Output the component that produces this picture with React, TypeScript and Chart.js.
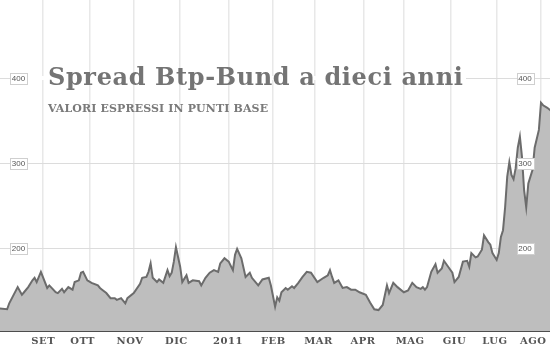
import React, { useEffect, useRef } from "react";
import { Chart, registerables } from "chart.js";

Chart.register(...registerables);

// ---- data ----
const SAMPLE_DATES: string[] = [
  "2010-08-03", "2010-08-09", "2010-08-10", "2010-08-16", "2010-08-18", "2010-08-19", "2010-08-23", "2010-08-25",
  "2010-08-26", "2010-08-27", "2010-08-31", "2010-09-03", "2010-09-06", "2010-09-09", "2010-09-10", "2010-09-14",
  "2010-09-15", "2010-09-17", "2010-09-21", "2010-09-22", "2010-09-24", "2010-09-27", "2010-09-28", "2010-09-30",
  "2010-10-04", "2010-10-07", "2010-10-08", "2010-10-11", "2010-10-13", "2010-10-15", "2010-10-19", "2010-10-20",
  "2010-10-22", "2010-10-26", "2010-10-27", "2010-11-01", "2010-11-04", "2010-11-05", "2010-11-09", "2010-11-10",
  "2010-11-11", "2010-11-12", "2010-11-16", "2010-11-17", "2010-11-19", "2010-11-23", "2010-11-24", "2010-11-25",
  "2010-11-26", "2010-11-29", "2010-12-01", "2010-12-02", "2010-12-06", "2010-12-07", "2010-12-09", "2010-12-14",
  "2010-12-15", "2010-12-17", "2010-12-21", "2010-12-23", "2010-12-27", "2010-12-28", "2010-12-30", "2011-01-03",
  "2011-01-05", "2011-01-06", "2011-01-07", "2011-01-11", "2011-01-13", "2011-01-17", "2011-01-18", "2011-01-21",
  "2011-01-25", "2011-01-28", "2011-01-31", "2011-02-02", "2011-02-03", "2011-02-04", "2011-02-07", "2011-02-09",
  "2011-02-10", "2011-02-14", "2011-02-15", "2011-02-17", "2011-02-21", "2011-02-23", "2011-02-25", "2011-03-02",
  "2011-03-07", "2011-03-09", "2011-03-10", "2011-03-11", "2011-03-14", "2011-03-16", "2011-03-18", "2011-03-22",
  "2011-03-24", "2011-03-28", "2011-03-30", "2011-04-04", "2011-04-06", "2011-04-08", "2011-04-12", "2011-04-14",
  "2011-04-18", "2011-04-19", "2011-04-21", "2011-04-27", "2011-05-02", "2011-05-04", "2011-05-06", "2011-05-10",
  "2011-05-12", "2011-05-13", "2011-05-16", "2011-05-17", "2011-05-19", "2011-05-23", "2011-05-24", "2011-05-26",
  "2011-05-27", "2011-05-31", "2011-06-02", "2011-06-03", "2011-06-07", "2011-06-09", "2011-06-13", "2011-06-14",
  "2011-06-15", "2011-06-17", "2011-06-20", "2011-06-22", "2011-06-23", "2011-06-27", "2011-06-28", "2011-06-29",
  "2011-07-01", "2011-07-04", "2011-07-05", "2011-07-06", "2011-07-07", "2011-07-08", "2011-07-11", "2011-07-12",
  "2011-07-13", "2011-07-14", "2011-07-15", "2011-07-18", "2011-07-19", "2011-07-20", "2011-07-21", "2011-07-22",
  "2011-07-26", "2011-07-27", "2011-07-29", "2011-08-01", "2011-08-02", "2011-08-04", "2011-08-08",
];

const SPREAD_BP: number[] = [
  129, 128, 135, 154, 145, 148, 154, 162,
  165, 160, 172, 153, 156, 148, 147, 152,
  148, 154, 151, 160, 162, 171, 172, 162,
  159, 156, 153, 151, 147, 141, 141, 139,
  141, 135, 141, 147, 158, 165, 166, 172,
  182, 165, 160, 163, 159, 174, 167, 171,
  184, 201, 178, 160, 168, 159, 162, 161,
  156, 165, 171, 174, 172, 182, 188, 184,
  174, 192, 199, 188, 166, 171, 165, 156,
  163, 165, 156, 131, 142, 138, 148, 153,
  151, 155, 153, 159, 166, 172, 171, 160,
  165, 168, 174, 166, 159, 162, 153, 154,
  151, 151, 148, 145, 136, 128, 127, 133,
  156, 147, 159, 154, 148, 150, 159, 154,
  152, 154, 151, 154, 172, 181, 171, 176,
  185, 178, 171, 160, 166, 184, 185, 178,
  194, 189, 190, 198, 215, 207, 204, 194,
  186, 194, 213, 221, 248, 284, 301, 286,
  281, 294, 318, 331, 307, 268, 248, 276,
  292, 318, 339, 371, 368, 365, 361,
];

const MONTH_STARTS: string[] = [
  "2010-09-01", "2010-10-01", "2010-11-01", "2010-12-01", "2011-01-01", "2011-02-01",
  "2011-03-01", "2011-04-01", "2011-05-01", "2011-06-01", "2011-07-01", "2011-08-01",
];
const MONTH_LABELS: string[] = ["SET", "OTT", "NOV", "DIC", "2011", "FEB", "MAR", "APR", "MAG", "GIU", "LUG", "AGO"];
const Y_TICKS: number[] = [200, 300, 400];
const MARKET_HOLIDAYS: string[] = ["2011-04-22", "2011-04-25"];

const TITLE = "Spread Btp-Bund a dieci anni";
const SUBTITLE = "VALORI ESPRESSI IN PUNTI BASE";

// ---- style / layout ----
const SESSION_ORIGIN = Date.UTC(2010, 7, 2);
const X_MIN = 1.62;
const X_MAX = 262.27;
const Y_MIN = 102.4;
const Y_MAX = 491.8;
const LABEL_NUDGE = [0, -7, -4, -4, -1, 0, 3, -1, 6, 4, -2, -8];

function sessionIndex(iso: string): number {
  const [yy, mm, dd] = iso.split("-").map(Number);
  const target = Date.UTC(yy, mm - 1, dd);
  let n = 0;
  for (let t = SESSION_ORIGIN; t < target; t += 86400000) {
    const dt = new Date(t);
    const wd = dt.getUTCDay();
    if (wd === 0 || wd === 6) continue;
    if (MARKET_HOLIDAYS.includes(dt.toISOString().slice(0, 10))) continue;
    n++;
  }
  return n;
}

function drawFitted(ctx: CanvasRenderingContext2D, text: string, x: number, y: number, target: number, font: string, color: string) {
  ctx.font = font;
  (ctx as any).letterSpacing = "0px";
  const w = ctx.measureText(text).width;
  const sp = (target - w) / (text.length - 1);
  (ctx as any).letterSpacing = sp.toFixed(2) + "px";
  ctx.fillStyle = color;
  ctx.textBaseline = "alphabetic";
  ctx.textAlign = "left";
  ctx.fillText(text, x, y);
  (ctx as any).letterSpacing = "0px";
}

function valueBox(ctx: CanvasRenderingContext2D, text: string, cx: number, cy: number) {
  const w = 17, h = 11;
  const x0 = Math.round(cx - w / 2) + 0.5;
  const y0 = Math.round(cy - h / 2) + 0.5;
  ctx.fillStyle = "#ffffff";
  ctx.fillRect(x0, y0, w, h);
  ctx.strokeStyle = "#cfcfcf";
  ctx.lineWidth = 1;
  ctx.strokeRect(x0, y0, w, h);
  ctx.fillStyle = "#555555";
  ctx.font = '8px "Liberation Sans", Arial, sans-serif';
  ctx.textAlign = "center";
  ctx.textBaseline = "middle";
  ctx.fillText(text, cx, cy + 0.5);
}

const overlayPlugin = {
  id: "overlay",
  afterDraw(chart: any) {
    const ctx: CanvasRenderingContext2D = chart.ctx;
    const xs = chart.scales.x;
    const ys = chart.scales.y;
    ctx.save();
    // hide the 400 gridline behind the title band
    const y400 = ys.getPixelForValue(400);
    ctx.fillStyle = "#ffffff";
    ctx.fillRect(28, y400 - 2, 438, 4);

    drawFitted(ctx, TITLE, 48, 85, 415, 'bold 24px "DejaVu Serif"', "#747474");
    drawFitted(ctx, SUBTITLE, 48, 112, 220, 'bold 11px "DejaVu Serif"', "#7a7a7a");

    // month labels
    ctx.font = 'bold 10px "DejaVu Serif"';
    ctx.fillStyle = "#555555";
    ctx.textBaseline = "alphabetic";
    ctx.textAlign = "left";
    (ctx as any).letterSpacing = "0.5px";
    MONTH_STARTS.forEach((d, i) => {
      const lab = MONTH_LABELS[i];
      const px = xs.getPixelForValue(sessionIndex(d)) + LABEL_NUDGE[i];
      const w = ctx.measureText(lab).width - 0.5;
      ctx.fillText(lab, px - w / 2, 343.5);
    });
    (ctx as any).letterSpacing = "0px";

    // value boxes
    Y_TICKS.forEach((v) => {
      const py = ys.getPixelForValue(v);
      valueBox(ctx, String(v), 18.5, py);
      valueBox(ctx, String(v), 525, py);
    });
    ctx.restore();
  },
};

export default function App() {
  const canvasRef = useRef<HTMLCanvasElement | null>(null);

  useEffect(() => {
    document.body.style.margin = "0";
    const canvas = canvasRef.current;
    if (!canvas) return;
    const points = SAMPLE_DATES.map((d, i) => ({ x: sessionIndex(d), y: SPREAD_BP[i] }));
    const monthTicks = MONTH_STARTS.map((d) => sessionIndex(d));

    const chart = new Chart(canvas, {
      type: "line",
      data: {
        datasets: [
          {
            data: points,
            borderColor: "#6c6c6c",
            borderWidth: 2,
            backgroundColor: "#bebebe",
            fill: "start",
            pointRadius: 0,
            tension: 0,
          },
        ],
      },
      options: {
        animation: false,
        responsive: false,
        devicePixelRatio: 1,
        layout: { padding: { left: 0, right: 0, top: 0, bottom: 17 } },
        plugins: { legend: { display: false }, tooltip: { enabled: false }, title: { display: false } },
        scales: {
          x: {
            type: "linear",
            min: X_MIN,
            max: X_MAX,
            afterBuildTicks: (scale: any) => {
              scale.ticks = monthTicks.map((v) => ({ value: v }));
            },
            ticks: { display: false, autoSkip: false },
            grid: { color: "#e8e8e8", lineWidth: 1.5, drawTicks: false },
            border: { display: true, color: "#4d4d4d", width: 2 },
          },
          y: {
            type: "linear",
            min: Y_MIN,
            max: Y_MAX,
            afterBuildTicks: (scale: any) => {
              scale.ticks = Y_TICKS.map((v) => ({ value: v }));
            },
            afterFit: (scale: any) => {
              scale.width = 0;
            },
            ticks: { display: false },
            grid: { color: "#dcdcdc", lineWidth: 1, drawTicks: false },
            border: { display: false },
          },
        },
      },
      plugins: [overlayPlugin],
    } as any);

    return () => chart.destroy();
  }, []);

  return (
    <div style={{ width: 550, height: 348, background: "#ffffff" }}>
      <canvas ref={canvasRef} width={550} height={348} style={{ width: 550, height: 348, display: "block" }} />
    </div>
  );
}
